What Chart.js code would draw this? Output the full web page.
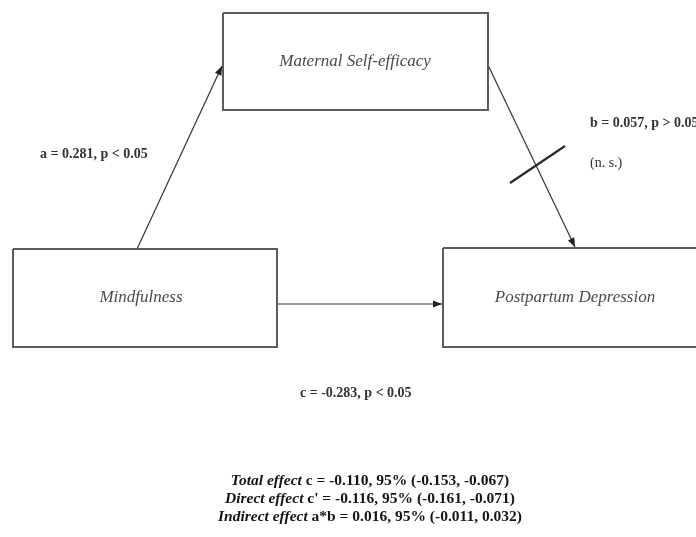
<!DOCTYPE html>
<html>
<head>
<meta charset="utf-8">
<script src="https://cdn.jsdelivr.net/npm/chart.js@4"></script>
<style>
  html, body { margin: 0; padding: 0; background: #fff; }
  canvas { display: block; }
</style>
</head>
<body>
<canvas id="diagram" width="696" height="537"></canvas>
<script>
// Variables of the mediation model
const nodeNames = ['Maternal Self-efficacy', 'Mindfulness', 'Postpartum Depression'];

// Path coefficients: a (X -> M), b (M -> Y), c (X -> Y)
const pathNames = ['a', 'b', 'c'];
const pathCoef = [0.281, 0.057, -0.283];
const pathSig = ['<', '>', '<'];
const pathAlpha = [0.05, 0.05, 0.05];

// Effect decomposition with 95% intervals
const effectNames = ['Total effect', 'Direct effect', 'Indirect effect'];
const effectSymbols = ['c', "c'", 'a*b'];
const effectEst = [-0.110, -0.116, 0.016];
const effectLow = [-0.153, -0.161, -0.011];
const effectHigh = [-0.067, -0.071, 0.032];

// Layout of the diagram in canvas units
const layout = {
  boxes: [
    { x0: 223, y0: 13, x1: 488, y1: 110, tx: 355, ty: 62 },
    { x0: 13, y0: 249, x1: 277, y1: 347, tx: 141, ty: 298 },
    { x0: 443, y0: 248, x1: 702, y1: 347, tx: 575, ty: 298 }
  ],
  arrows: [
    { from: [137, 249], to: [222, 66] },
    { from: [488, 65], to: [575, 247] },
    { from: [277, 304], to: [442, 304] }
  ],
  slash: { from: [510, 183], to: [565, 146] },
  pathLabels: [
    { x: 40, y: 154 },
    { x: 590, y: 123 },
    { x: 300, y: 393 }
  ],
  nsLabel: { x: 590, y: 163 },
  effectsCenter: 370,
  effectsTop: 481,
  effectsStep: 18
};

const fmt = v => v.toFixed(3);

const boxDatasets = layout.boxes.map(b => ({
  type: 'line',
  data: [
    { x: b.x0, y: b.y0 }, { x: b.x1, y: b.y0 }, { x: b.x1, y: b.y1 },
    { x: b.x0, y: b.y1 }, { x: b.x0, y: b.y0 }
  ],
  borderColor: '#5c5c5c',
  borderWidth: 2,
  pointRadius: 0,
  tension: 0,
  fill: false
}));

const arrowDatasets = layout.arrows.map(a => ({
  type: 'line',
  data: [{ x: a.from[0], y: a.from[1] }, { x: a.to[0], y: a.to[1] }],
  borderColor: '#333',
  borderWidth: 1.2,
  pointRadius: 0,
  fill: false
}));

const slashDataset = {
  type: 'line',
  data: [{ x: layout.slash.from[0], y: layout.slash.from[1] }, { x: layout.slash.to[0], y: layout.slash.to[1] }],
  borderColor: '#2a2a2a',
  borderWidth: 2.2,
  pointRadius: 0,
  fill: false
};

// Arrowheads, node names and annotations
const diagramText = {
  id: 'diagramText',
  afterDatasetsDraw(chart) {
    const { ctx, scales } = chart;
    const px = v => scales.x.getPixelForValue(v);
    const py = v => scales.y.getPixelForValue(v);
    ctx.save();

    // arrowheads
    layout.arrows.forEach(a => {
      const x1 = px(a.from[0]), y1 = py(a.from[1]);
      const x2 = px(a.to[0]), y2 = py(a.to[1]);
      const ang = Math.atan2(y2 - y1, x2 - x1);
      const len = 9, half = 3.5;
      ctx.fillStyle = '#222';
      ctx.beginPath();
      ctx.moveTo(x2, y2);
      ctx.lineTo(x2 - len * Math.cos(ang) + half * Math.sin(ang), y2 - len * Math.sin(ang) - half * Math.cos(ang));
      ctx.lineTo(x2 - len * Math.cos(ang) - half * Math.sin(ang), y2 - len * Math.sin(ang) + half * Math.cos(ang));
      ctx.closePath();
      ctx.fill();
    });

    // node names
    ctx.fillStyle = '#4a4a4a';
    ctx.font = 'italic 17px "Liberation Serif", "DejaVu Serif", serif';
    ctx.textAlign = 'center';
    ctx.textBaseline = 'middle';
    layout.boxes.forEach((b, i) => {
      ctx.fillText(nodeNames[i], px(b.tx), py(b.ty));
    });

    // path labels
    ctx.fillStyle = '#333';
    ctx.font = 'bold 14px "Liberation Serif", serif';
    ctx.textAlign = 'left';
    pathNames.forEach((n, i) => {
      const p = layout.pathLabels[i];
      ctx.fillText(`${n} = ${fmt(pathCoef[i])}, p ${pathSig[i]} ${pathAlpha[i].toFixed(2)}`, px(p.x), py(p.y));
    });
    ctx.font = '14px "Liberation Serif", serif';
    ctx.fillText('(n. s.)', px(layout.nsLabel.x), py(layout.nsLabel.y));

    // effect summary
    ctx.fillStyle = '#151515';
    ctx.textAlign = 'left';
    effectNames.forEach((name, i) => {
      const fontA = 'italic bold 15.5px "Liberation Serif", serif';
      const fontB = 'bold 15.5px "Liberation Serif", serif';
      const rest = ` ${effectSymbols[i]} = ${fmt(effectEst[i])}, 95% (${fmt(effectLow[i])}, ${fmt(effectHigh[i])})`;
      ctx.font = fontA;
      const wA = ctx.measureText(name).width;
      ctx.font = fontB;
      const wB = ctx.measureText(rest).width;
      const x0 = px(layout.effectsCenter) - (wA + wB) / 2;
      const y = py(layout.effectsTop + i * layout.effectsStep);
      ctx.font = fontA;
      ctx.fillText(name, x0, y);
      ctx.font = fontB;
      ctx.fillText(rest, x0 + wA, y);
    });

    ctx.restore();
  }
};

new Chart(document.getElementById('diagram'), {
  type: 'scatter',
  data: { datasets: [...boxDatasets, ...arrowDatasets, slashDataset] },
  options: {
    responsive: false,
    animation: false,
    devicePixelRatio: 1,
    layout: { padding: 0 },
    plugins: { legend: { display: false }, tooltip: { enabled: false } },
    scales: {
      x: { type: 'linear', min: 0, max: 696, display: false },
      y: { type: 'linear', min: 0, max: 537, reverse: true, display: false }
    },
    clip: false
  },
  plugins: [diagramText]
});
</script>
</body>
</html>
